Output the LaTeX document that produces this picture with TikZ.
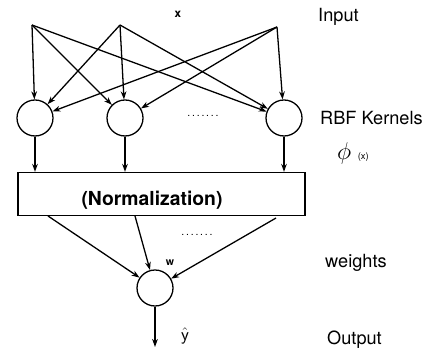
\documentclass[tikz,border=0pt]{standalone}
\usepackage{fontspec}
\setmainfont{TeX Gyre Heros}
\usetikzlibrary{arrows.meta, calc}

\begin{document}
\begin{tikzpicture}[
  x=0.03cm, y=-0.03cm,
  font=\fontsize{15.5}{18}\selectfont,
  kern/.style={circle, draw, line width=1.1pt, minimum size=1.08cm, inner sep=0pt},
  arr/.style={-{Stealth[length=2.4mm, width=1.7mm]}, line width=1.1pt},
  lbl/.style={anchor=west, inner sep=0pt},
  dots/.style={font=\small, inner sep=0pt}
]
\useasboundingbox (0,0) rectangle (429,349);

% --- Nodes ---
\coordinate (in1) at (32,25);
\coordinate (in2) at (120,25);
\coordinate (in3) at (277,27);
\node[inner sep=0pt, font=\normalsize\bfseries] (x) at (178,14) {x};

\node[kern] (k1) at (35,118) {};
\node[kern] (k2) at (125,118) {};
\node[kern] (k3) at (284,118) {};
\node[dots] (kdots) at (203,116) {.\,.\,.\,.\,.\,.\,.};

\node[draw, line width=1.1pt, minimum width=8.61cm, minimum height=1.29cm,
      inner sep=0pt] (norm) at (161.5,194) {};
\node[inner sep=0pt, font=\fontsize{16.5}{20}\selectfont\bfseries] (normtxt) at (152,200) {(Normalization)};

\node[kern] (out) at (155,288) {};
\node[inner sep=0pt, font=\small\bfseries] (w) at (170,263) {w};
\node[dots] (wdots) at (197,235) {.\,.\,.\,.\,.\,.\,.};
\coordinate (yend) at (155,347);
\node[inner sep=0pt] (yhat) at (185,336) {$\hat{\mathsf{y}}$};

% --- Labels on the right ---
\node[lbl] (input) at (318,17) {Input};
\node[lbl] (rbf) at (320,118) {RBF Kernels};
\node[lbl] (phi) at (337,153) {\fontsize{20}{22}\selectfont$\phi$ \footnotesize(x)};
\node[lbl] (weights) at (325,263) {weights};
\node[lbl] (output) at (327,340) {Output};

% input -> kernels
\foreach \i in {1,2,3}
  \foreach \k in {1,2,3}
    \draw[arr] (in\i) -- (k\k);

% kernels -> normalization
\foreach \k in {1,2,3}
  \draw[arr] (k\k) -- (k\k |- norm.north);

% normalization -> output
\coordinate (n1) at (48,216);
\coordinate (n2) at (135,216);
\coordinate (n3) at (276,218);
\foreach \n in {1,2,3}
  \draw[arr] (n\n) -- (out);

\draw[arr] (out) -- (yend);

\end{tikzpicture}
\end{document}
